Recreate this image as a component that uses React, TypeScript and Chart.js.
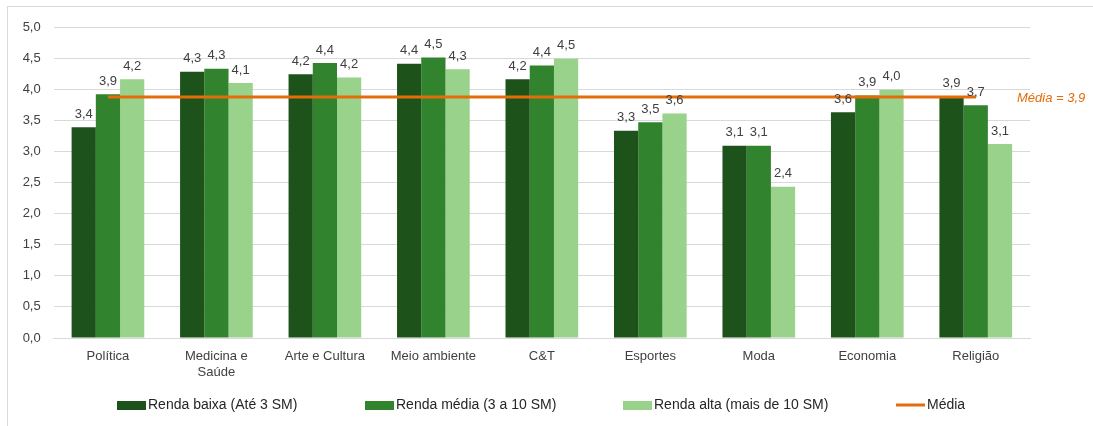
import React, { useEffect, useRef } from "react";
import { Chart, registerables } from "chart.js";

Chart.register(...registerables);

const categories: (string | string[])[] = [
  "Política",
  ["Medicina e", "Saúde"],
  "Arte e Cultura",
  "Meio ambiente",
  "C&T",
  "Esportes",
  "Moda",
  "Economia",
  "Religião",
];

const rendaBaixa = [3.39, 4.28, 4.24, 4.41, 4.16, 3.33, 3.09, 3.63, 3.88];
const rendaMedia = [3.92, 4.33, 4.42, 4.51, 4.38, 3.47, 3.09, 3.9, 3.74];
const rendaAlta = [4.16, 4.1, 4.19, 4.32, 4.49, 3.61, 2.43, 3.99, 3.12];
const mediaGeral = 3.875;
const mediaLabel = "Média = 3,9";
const seriesNames = [
  "Renda baixa (Até 3 SM)",
  "Renda média (3 a 10 SM)",
  "Renda alta (mais de 10 SM)",
  "Média",
];

const COLORS = ["#1e521b", "#31842d", "#98d28b", "#e46c0a"];
const FONT = '"Liberation Sans", Arial, sans-serif';

const fmt = (v: number) => v.toFixed(1).replace(".", ",");

const valueLabels = {
  id: "valueLabels",
  afterDatasetsDraw(chart: any) {
    const ctx = chart.ctx;
    ctx.save();
    ctx.font = `13px ${FONT}`;
    ctx.fillStyle = "#404040";
    ctx.textAlign = "center";
    ctx.textBaseline = "middle";
    chart.data.datasets.forEach((ds: any, i: number) => {
      if (ds.type !== "bar") return;
      const meta = chart.getDatasetMeta(i);
      meta.data.forEach((el: any, j: number) => {
        ctx.fillText(fmt(ds.data[j]), el.x, el.y - 13);
      });
    });
    const lineIdx = chart.data.datasets.findIndex((d: any) => d.type === "line");
    if (lineIdx >= 0) {
      const meta = chart.getDatasetMeta(lineIdx);
      const last = meta.data[meta.data.length - 1];
      ctx.font = `italic 13px ${FONT}`;
      ctx.fillStyle = COLORS[3];
      ctx.textAlign = "left";
      ctx.fillText(mediaLabel, chart.chartArea.right - 13, last.y + 1);
    }
    ctx.restore();
  },
};

const customLegend = {
  id: "customLegend",
  afterDraw(chart: any) {
    const ctx = chart.ctx;
    const y = 405;
    const starts = [117, 365, 623, 896];
    ctx.save();
    ctx.font = `14px ${FONT}`;
    ctx.textBaseline = "middle";
    ctx.textAlign = "left";
    seriesNames.forEach((name, i) => {
      const x = starts[i];
      if (i < 3) {
        ctx.fillStyle = COLORS[i];
        ctx.fillRect(x, y - 4, 29, 9);
      } else {
        ctx.strokeStyle = COLORS[3];
        ctx.lineWidth = 3;
        ctx.beginPath();
        ctx.moveTo(x, y);
        ctx.lineTo(x + 29, y);
        ctx.stroke();
      }
      ctx.fillStyle = "#262626";
      ctx.fillText(name, x + 31, y);
    });
    ctx.restore();
  },
};

export default function App() {
  const ref = useRef<HTMLCanvasElement>(null);

  useEffect(() => {
    if (!ref.current) return;
    const chart = new Chart(ref.current, {
      type: "bar",
      data: {
        labels: categories as any,
        datasets: [
          {
            type: "line",
            label: seriesNames[3],
            data: categories.map(() => mediaGeral),
            borderColor: COLORS[3],
            backgroundColor: COLORS[3],
            borderWidth: 3,
            pointRadius: 0,
            order: 0,
          } as any,
          {
            type: "bar",
            label: seriesNames[0],
            data: rendaBaixa,
            backgroundColor: COLORS[0],
            order: 1,
          },
          {
            type: "bar",
            label: seriesNames[1],
            data: rendaMedia,
            backgroundColor: COLORS[1],
            order: 1,
          },
          {
            type: "bar",
            label: seriesNames[2],
            data: rendaAlta,
            backgroundColor: COLORS[2],
            order: 1,
          },
        ],
      },
      options: {
        responsive: false,
        animation: false,
        layout: { padding: { left: 0, right: 63, top: 27, bottom: 0 } },
        datasets: {
          bar: { categoryPercentage: 0.67, barPercentage: 1.0 },
        },
        plugins: {
          legend: { display: false },
          tooltip: { enabled: false },
        },
        scales: {
          x: {
            offset: true,
            grid: { display: false },
            border: { display: true, color: "#d9d9d9" },
            ticks: {
              font: { family: FONT, size: 13 },
              color: "#404040",
              padding: 3,
              maxRotation: 0,
              autoSkip: false,
            },
            afterFit: (s: any) => {
              s.height = 88;
            },
          },
          y: {
            min: 0,
            max: 5,
            grid: { color: "#d9d9d9", drawTicks: false },
            border: { display: false },
            ticks: {
              stepSize: 0.5,
              padding: 13,
              font: { family: FONT, size: 13 },
              color: "#404040",
              callback: (v: any) => fmt(Number(v)),
            },
            afterFit: (s: any) => {
              s.width = 53.7;
            },
          },
        },
      },
      plugins: [valueLabels, customLegend],
    } as any);
    return () => chart.destroy();
  }, []);

  return (
    <div style={{ position: "absolute", left: 0, top: 0, width: 1093, height: 426, background: "#fff" }}>
      <div
        style={{
          position: "absolute",
          left: 7,
          top: 6,
          right: -2,
          bottom: -2,
          borderLeft: "1px solid #d9d9d9",
          borderTop: "1px solid #d9d9d9",
        }}
      />
      <canvas ref={ref} width={1093} height={426} style={{ position: "absolute", left: 0, top: 0 }} />
    </div>
  );
}
